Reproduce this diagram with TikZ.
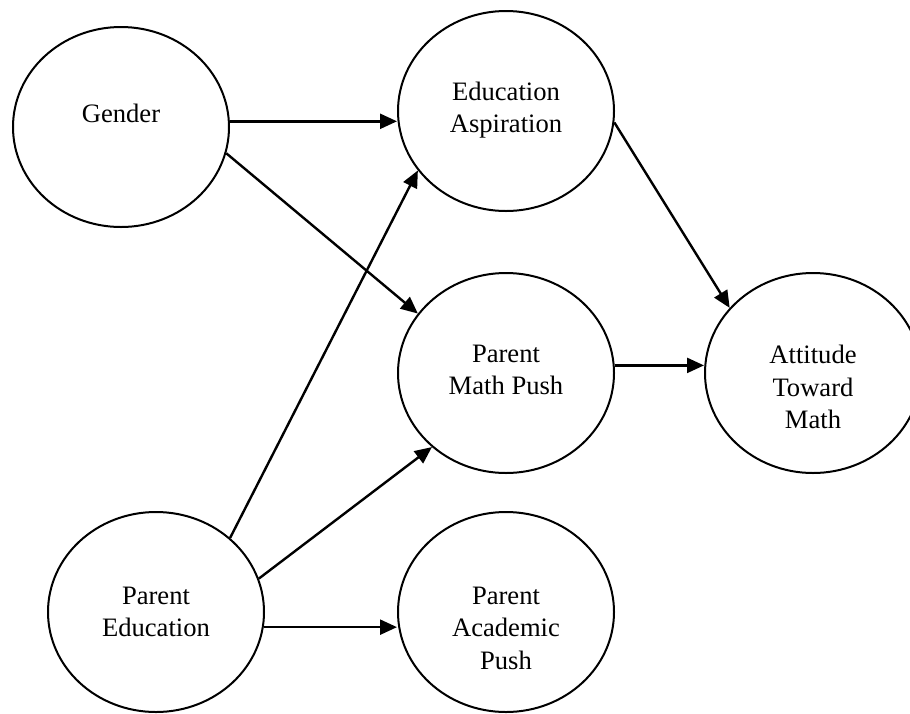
\documentclass[tikz,border=0pt]{standalone}
\usepackage{fontspec}
\setmainfont{Liberation Serif}
\usetikzlibrary{shapes.geometric,arrows.meta}
\begin{document}
\begin{tikzpicture}[x=1pt,y=-1pt,
  construct/.style={ellipse,draw,line width=2pt,minimum width=216pt,minimum height=200pt,inner sep=0pt},
  caption/.style={align=center,inner sep=0pt,font=\fontsize{26.6}{32.5}\selectfont},
  path/.style={line width=2.4pt,-{Triangle[length=17pt,width=15pt]}}]
\useasboundingbox (0,0) rectangle (910,713);

% constructs
\node[construct] (gender) at (121,127) {};
\node[construct] (easp)   at (506,111) {};
\node[construct] (pmath)  at (506,373) {};
\node[construct] (att)    at (813,373) {};
\node[construct] (pedu)   at (156,612) {};
\node[construct] (pacad)  at (506,612) {};

% construct names
\node[caption] (gender-t) at (121,113) {Gender};
\node[caption] (easp-t)   at (506,110) {Education\\Aspiration};
\node[caption] (pmath-t)  at (506,370) {Parent\\Math Push};
\node[caption] (att-t)    at (813,387) {Attitude\\Toward\\Math};
\node[caption] (pedu-t)   at (156,612) {Parent\\Education};
\node[caption] (pacad-t)  at (506,628) {Parent\\Academic\\Push};

% paths
\draw[path] (gender.3) -- (easp.west |- gender.3);
\draw[path] (gender.-14) -- (pmath.146);
\draw[path] (pedu.45) -- (easp.214);
\draw[path] (pedu.18) -- (pmath.225);
\draw[path] (pedu.-8) -- (pacad.west |- pedu.-8);
\draw[path] (easp.-6) -- (att.142);
\draw[path] (pmath.4) -- (att.west |- pmath.4);
\end{tikzpicture}
\end{document}
